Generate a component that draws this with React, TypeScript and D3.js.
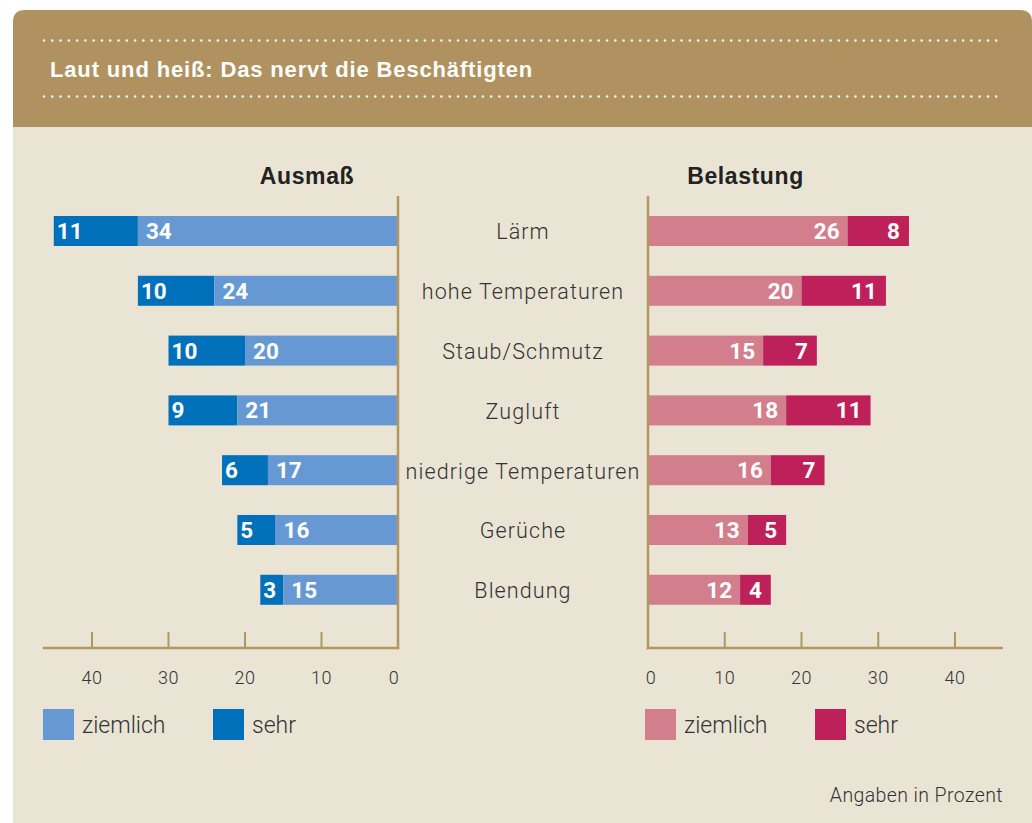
import React from "react";
import * as d3 from "d3";

const categories = [
  "Lärm",
  "hohe Temperaturen",
  "Staub/Schmutz",
  "Zugluft",
  "niedrige Temperaturen",
  "Gerüche",
  "Blendung",
];
const ausmassZiemlich = [34, 24, 20, 21, 17, 16, 15];
const ausmassSehr = [11, 10, 10, 9, 6, 5, 3];
const belastungZiemlich = [26, 20, 15, 18, 16, 13, 12];
const belastungSehr = [8, 11, 7, 11, 7, 5, 4];
const tickValues = [0, 10, 20, 30, 40];

const title = "Laut und heiß: Das nervt die Beschäftigten";
const leftTitle = "Ausmaß";
const rightTitle = "Belastung";
const legendLabels = ["ziemlich", "sehr"];
const note = "Angaben in Prozent";

const C = {
  header: "#B09261",
  body: "#EAE4D5",
  axis: "#B39660",
  text: "#333333",
  lightBlue: "#6699D3",
  darkBlue: "#0070BA",
  pink: "#D37E8C",
  crimson: "#BE215A",
};

const FONT = "Roboto, 'Liberation Sans', sans-serif";
const BOLD = "'Liberation Sans', Arial, sans-serif";

export default function App() {
  const W = 1032;
  const H = 823;
  const xL = d3.scaleLinear().domain([0, 40]).range([398, 92]);
  const xR = d3.scaleLinear().domain([0, 40]).range([648, 955]);
  const y = d3
    .scaleBand<string>()
    .domain(categories)
    .range([186.2, 186.2 + 59.8 * 7.498])
    .padding(0.498);
  const bw = y.bandwidth();
  const axisY = 648;
  const panelX = 13;
  const panelY = 10;
  const r = 12;
  const headerBottom = 127;

  const headerPath = `M${panelX},${headerBottom} L${panelX},${panelY + r} Q${panelX},${panelY} ${panelX + r},${panelY} L${W - r},${panelY} Q${W},${panelY} ${W},${panelY + r} L${W},${headerBottom} Z`;

  return (
    <svg
      width={W}
      height={H}
      style={{ position: "absolute", left: 0, top: 0, fontFamily: FONT }}
    >
      <rect x={0} y={0} width={W} height={H} fill="#ffffff" />
      <rect x={panelX} y={headerBottom} width={W - panelX} height={H - headerBottom} fill={C.body} />
      <path d={headerPath} fill={C.header} />
      {[40.5, 96.5].map((yy) => (
        <line
          key={yy}
          x1={44}
          x2={1004}
          y1={yy}
          y2={yy}
          stroke="#ffffff"
          strokeOpacity={0.9}
          strokeWidth={2.6}
          strokeLinecap="round"
          strokeDasharray="0 8.28"
        />
      ))}
      <text x={50} y={77} fill="#ffffff" fontSize={22} fontWeight={700} fontFamily={BOLD} letterSpacing={0.85}>
        {title}
      </text>

      <text x={307} y={184} textAnchor="middle" fill="#222" fontSize={23} fontWeight={700} fontFamily={BOLD} letterSpacing={0.6}>
        {leftTitle}
      </text>
      <text x={745.5} y={184} textAnchor="middle" fill="#222" fontSize={23} fontWeight={700} fontFamily={BOLD} letterSpacing={0.6}>
        {rightTitle}
      </text>

      {/* left bars */}
      {categories.map((c, i) => {
        const z = ausmassZiemlich[i];
        const s = ausmassSehr[i];
        const y0 = y(c)!;
        return (
          <g key={"l" + c}>
            <rect x={xL(z + s)} y={y0} width={xL(z) - xL(z + s)} height={bw} fill={C.darkBlue} />
            <rect x={xL(z)} y={y0} width={xL(0) - xL(z)} height={bw} fill={C.lightBlue} />
            <text x={xL(z + s) + 3} y={y0 + bw / 2 + 8} fill="#fff" fontSize={22.5} fontWeight={700}>
              {s}
            </text>
            <text x={xL(z) + 8} y={y0 + bw / 2 + 8} fill="#fff" fontSize={22.5} fontWeight={700}>
              {z}
            </text>
          </g>
        );
      })}

      {/* right bars */}
      {categories.map((c, i) => {
        const z = belastungZiemlich[i];
        const s = belastungSehr[i];
        const y0 = y(c)!;
        return (
          <g key={"r" + c}>
            <rect x={xR(0)} y={y0} width={xR(z) - xR(0)} height={bw} fill={C.pink} />
            <rect x={xR(z)} y={y0} width={xR(z + s) - xR(z)} height={bw} fill={C.crimson} />
            <text x={xR(z) - 8} y={y0 + bw / 2 + 8} textAnchor="end" fill="#fff" fontSize={22.5} fontWeight={700}>
              {z}
            </text>
            <text x={xR(z + s) - 9} y={y0 + bw / 2 + 8} textAnchor="end" fill="#fff" fontSize={22.5} fontWeight={700}>
              {s}
            </text>
          </g>
        );
      })}

      {/* category labels */}
      {categories.map((c) => (
        <text
          key={"c" + c}
          x={523}
          y={y(c)! + bw / 2 + 8.5}
          textAnchor="middle"
          fill={C.text}
          fontSize={21.5}
          fontWeight={300}
          letterSpacing={1.1}
        >
          {c}
        </text>
      ))}

      {/* axes */}
      <line x1={xL(0)} x2={xL(0)} y1={196} y2={axisY + 1.2} stroke={C.axis} strokeWidth={2.5} />
      <line x1={43} x2={xL(0) + 1.2} y1={axisY} y2={axisY} stroke={C.axis} strokeWidth={2.5} />
      <line x1={xR(0)} x2={xR(0)} y1={196} y2={axisY + 1.2} stroke={C.axis} strokeWidth={2.5} />
      <line x1={xR(0) - 1.2} x2={1003} y1={axisY} y2={axisY} stroke={C.axis} strokeWidth={2.5} />
      {tickValues.filter((t) => t > 0).map((t) => (
        <g key={"t" + t}>
          <line x1={xL(t)} x2={xL(t)} y1={632} y2={axisY} stroke={C.axis} strokeWidth={2} />
          <line x1={xR(t)} x2={xR(t)} y1={632} y2={axisY} stroke={C.axis} strokeWidth={2} />
        </g>
      ))}
      {tickValues.map((t) => (
        <g key={"tl" + t}>
          <text x={xL(t) - (t === 0 ? 4 : 0)} y={684} textAnchor="middle" fill={C.text} fontSize={18} fontWeight={300} letterSpacing={0.5}>
            {t}
          </text>
          <text x={xR(t) + (t === 0 ? 3 : 0)} y={684} textAnchor="middle" fill={C.text} fontSize={18} fontWeight={300} letterSpacing={0.5}>
            {t}
          </text>
        </g>
      ))}

      {/* legends */}
      {[
        { x: 43, color: C.lightBlue, label: legendLabels[0] },
        { x: 213, color: C.darkBlue, label: legendLabels[1] },
        { x: 645, color: C.pink, label: legendLabels[0] },
        { x: 815, color: C.crimson, label: legendLabels[1] },
      ].map((l) => (
        <g key={"lg" + l.x}>
          <rect x={l.x} y={709} width={31} height={31} fill={l.color} />
          <text x={l.x + 39} y={733} fill={C.text} fontSize={23} fontWeight={300}>
            {l.label}
          </text>
        </g>
      ))}

      <text x={1003} y={802} textAnchor="end" fill={C.text} fontSize={19.5} fontWeight={300} letterSpacing={0.4}>
        {note}
      </text>
    </svg>
  );
}
